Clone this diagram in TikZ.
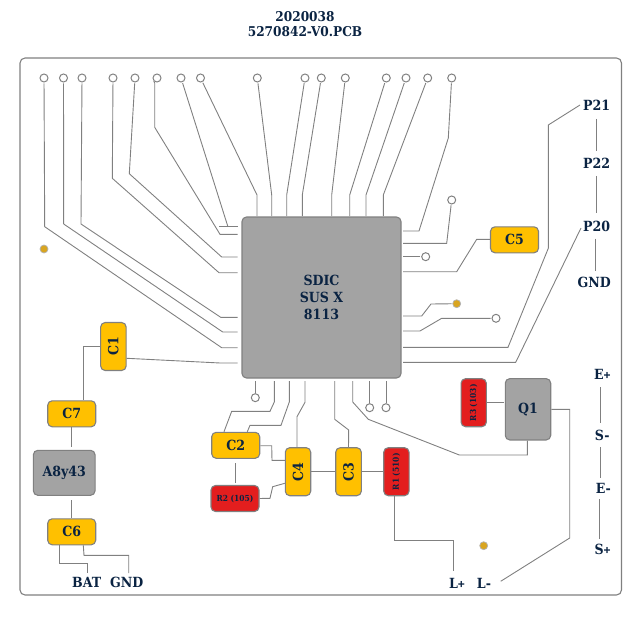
\documentclass[tikz,border=0pt]{standalone}
\usepackage{fontspec}
\setmainfont{DejaVu Serif Condensed}
\newfontfamily\plusfont{Liberation Sans}
\usetikzlibrary{calc}
\definecolor{linec}{HTML}{808080}
\definecolor{chipc}{HTML}{A3A3A3}
\definecolor{capc}{HTML}{FFC000}
\definecolor{resc}{HTML}{E31E1E}
\definecolor{textc}{HTML}{0A2342}
\definecolor{goldc}{HTML}{D9A520}
\newcommand{\plusmark}{{\plusfont\fontsize{12}{12}\selectfont +}}
\tikzset{
  trace/.style={draw=linec,line width=.9pt,line join=miter},
  frompad/.style={trace,shorten <=.8pt},
  part/.style={draw=linec,line width=1.1pt,rounded corners=4.5pt,inner sep=0pt,text=textc,font=\bfseries\fontsize{14}{15}\selectfont,align=center},
  capbox/.style={part,fill=capc},
  wide/.style={minimum width=48pt,minimum height=26pt},
  resbox/.style={part,fill=resc,font=\bfseries\fontsize{8.3}{10}\selectfont},
  greybox/.style={part,fill=chipc},
  pad/.style={circle,draw=linec,line width=1pt,fill=white,minimum size=8pt,inner sep=0pt},
  dot/.style={circle,draw=linec!60,line width=.7pt,fill=goldc,minimum size=8pt,inner sep=0pt},
  lab/.style={inner sep=0pt,text=textc,font=\bfseries\fontsize{14}{15}\selectfont},
}
\begin{document}
\begin{tikzpicture}[x=1pt,y=-1pt]
\useasboundingbox (0,0) rectangle (641,618);
\node[lab,align=center,font=\bfseries\fontsize{13.5}{15}\selectfont] (title) at (305,24) {2020038\\5270842-V0.PCB};
\draw[draw=linec,line width=1.1pt,rounded corners=5pt] (20,58) rectangle (621.5,595);
\node[greybox,minimum width=159pt,minimum height=161pt,font=\bfseries\fontsize{14}{17}\selectfont] (chip) at (321.5,297.5) {SDIC\\SUS X\\8113};
% top pads
\foreach \n/\x in {a/44,b/63.5,c/82,d/113,e/135,f/157,g/181,h/200.5,i/257.3,j/305,k/321.3,l/345.3,m/386.3,n/406,o/427.7,q/451.7}
  \node[pad] (\n) at (\x,78) {};
\node[pad] (r) at (451.7,200) {};
\node[pad] (s) at (425.7,256.7) {};
\node[pad] (u) at (496,318.3) {};
\node[pad] (v) at (255.3,397.7) {};
\node[pad] (w) at (369.7,407.7) {};
\node[pad] (y) at (386,407.7) {};
\node[dot] (d1) at (44,249) {};
\node[dot] (d2) at (456.7,303.7) {};
\node[dot] (d3) at (483.7,545.7) {};
% parts
\node[capbox,wide] (C5) at (514.5,239.8) {C5};
\node[capbox,rotate=90,minimum width=48pt,minimum height=25.5pt] (C1) at (113.4,346.5) {C1};
\node[capbox,wide] (C7) at (71.7,413.8) {C7};
\node[greybox,minimum width=61.7pt,minimum height=45pt] (A) at (64.2,472.8) {A8y43};
\node[capbox,wide] (C6) at (71.7,531.8) {C6};
\node[capbox,wide] (C2) at (235.7,445.3) {C2};
\node[resbox,wide] (R2) at (235,498.5) {R2 (105)};
\node[capbox,rotate=90,minimum width=48pt,minimum height=25.4pt] (C4) at (298,471.7) {C4};
\node[capbox,rotate=90,minimum width=48pt,minimum height=25.6pt] (C3) at (348.5,471.7) {C3};
\node[resbox,rotate=90,minimum width=48pt,minimum height=25.3pt] (R1) at (396.4,471.7) {R1 (510)};
\node[resbox,rotate=90,minimum width=48pt,minimum height=25.3pt] (R3) at (473.7,402.7) {R3 (103)};
\node[greybox,minimum width=45.4pt,minimum height=61.3pt] (Q1) at (528,409.3) {Q1};
% labels
\node[lab] (P21) at (596.7,105) {P21};
\node[lab] (P22) at (596.7,163.5) {P22};
\node[lab] (P20) at (596.7,226) {P20};
\node[lab] (GNDa) at (594.3,282) {GND};
\node[lab] (Ep) at (602.3,374.3) {E\plusmark};
\node[lab] (Sm) at (602.3,435.7) {S-};
\node[lab] (Em) at (603.3,488.3) {E-};
\node[lab] (Sp) at (602.7,549.3) {S\plusmark};
\node[lab] (BAT) at (86.7,582.7) {BAT};
\node[lab] (GNDb) at (126.7,582.7) {GND};
\node[lab] (Lp) at (457,583) {L\plusmark};
\node[lab] (Lm) at (484,583) {L-};
% chip pin coordinates
\foreach \n/\x in {t1/257,t2/271.7,t3/286.7,t4/302.3,t5/331.7,t6/349.7,t7/366,t8/383.3}
  \coordinate (\n) at (\x,216);
\foreach \n/\y in {l1/226,l2/234.3,l3/257,l4/272.7,l5/317.3,l6/332,l7/347.7,l8/363}
  \coordinate (\n) at (237.7,\y);
\foreach \n/\y in {e1/231,e2/243.3,e3/256.7,e4/271.7,e5/316,e6/331,e7/347.3,e8/362.3}
  \coordinate (\n) at (403,\y);
\foreach \n/\x in {b1/255.3,b2/274.3,b3/289.3,b4/305,b5/334.7,b6/352.7,b7/369.7,b8/386}
  \coordinate (\n) at (\x,381);
% top traces
\draw[frompad] (h) -- (257,195) -- (t1);
\draw[frompad] (i) -- (271.7,195) -- (t2);
\draw[frompad] (j) -- (286.7,195) -- (t3);
\draw[frompad] (k) -- (302.3,195) -- (t4);
\draw[frompad] (l) -- (331.7,195) -- (t5);
\draw[frompad] (m) -- (349.7,195) -- (t6);
\draw[frompad] (n) -- (366,195) -- (t7);
\draw[frompad] (o) -- (383.3,195) -- (t8);
% right traces
\draw[frompad] (q) -- (448.3,138) -- (419,231) -- (e1);
\draw[frompad] (r) -- (446.7,243.3) -- (e2);
\draw[frompad] (s) -- (e3);
\draw[trace] (C5.west |- 0,239.3) -- (476.7,239.3) -- (456.7,271.7) -- (e4);
\draw[frompad] (d2) -- (431,304) -- (421.7,316) -- (e5);
\draw[frompad] (u) -- (441.7,318.3) -- (420,331) -- (e6);
\draw[trace] (P21.west) ++(-3,0) -- (548.3,125) -- (548.3,248.3) -- (508,347.3) -- (e7);
\draw[trace] (P20.west) ++(-2,2) -- (515.7,362.3) -- (e8);
% left traces
\draw[frompad] (g) -- (227.7,226);
\draw[trace] (219,226) -- (l1);
\draw[trace] (154.7,83) coordinate (fs) -- (154.7,127.3) -- (220,234.3) -- (l2);
\draw[trace] (f.south west) -- (fs);
\draw[frompad] (e) -- (129.3,173.7) -- (221.7,257) -- (l3);
\draw[frompad] (d) -- (112.3,178.3) -- (219,272.7) -- (l4);
\draw[frompad] (c) -- (81,224) -- (220.7,317.3) -- (l5);
\draw[frompad] (b) -- (63.7,224) -- (222.7,332) -- (l6);
\draw[frompad] (a) -- (44.7,226.7) -- (221.7,347.7) -- (l7);
\draw[trace] (C1.south |- 0,358.3) -- (220,363) -- (l8);
% left column
\draw[trace] (C1.north |- 0,346) -- (83.3,346) -- (C7.north -| 83.3,0);
\draw[trace] (C7.south) -- (71.7,447.3);
\draw[trace] (71.7,500) -- (C6.north);
\draw[trace] (C6.south -| 59.7,0) -- (59.7,563.7) -- (87.7,563.7) -- (87.7,573);
\draw[trace] (C6.south -| 83.3,0) -- (84,555.3) -- (128.7,555.3) -- (128.7,573);
% bottom traces
\draw[trace] (b1) -- (v);
\draw[trace] (b2) -- (274.3,402) -- (270,411.3) -- (231.7,411.3) -- (C2.north -| 224,0);
\draw[trace] (b3) -- (289.3,402) -- (281,425.3) -- (250,425.3) -- (C2.north -| 247.3,0);
\draw[trace] (b4) -- (305,402.3) -- (297,416.7) -- (C4.east -| 297,0);
\draw[trace] (b5) -- (334.7,419.3) -- (348.7,430) -- (C3.east);
\draw[trace] (b6) -- (352.7,402) -- (368.3,419.3) -- (459.3,455) -- (527.3,455) -- (Q1.south -| 527.3,0);
\draw[trace] (b7) -- (w);
\draw[trace] (b8) -- (y);
% parts links
\draw[trace] (235,463.3) -- (235,483.3);
\draw[trace] (C2.east |- 0,445.7) -- (271.7,445.7) -- (272,460.3) -- (C4.north |- 0,460.3);
\draw[trace] (R2.east) -- (270,498.3) -- (272.7,486.7) -- (C4.north |- 0,483.3);
\draw[trace] (C4) -- (C3);
\draw[trace] (C3) -- (R1);
\draw[trace] (R1.west -| 394.7,0) -- (394.7,540) -- (453,540) -- (453,570.7);
\draw[trace] (R3) -- (504,402.7);
\draw[trace] (Q1.east |- 0,409.3) -- (569.7,409.3) -- (569.7,538) -- (500.7,581.3);
% right column links
\draw[trace] (596,119) -- (596,151);
\draw[trace] (596,176) -- (596,213.3);
\draw[trace] (595,238.7) -- (595,270.7);
\draw[trace] (600.7,387.3) -- (600.7,423.3);
\draw[trace] (600,447.3) -- (600,478.3);
\draw[trace] (599.3,499.3) -- (599.3,539.3);
\end{tikzpicture}
\end{document}
